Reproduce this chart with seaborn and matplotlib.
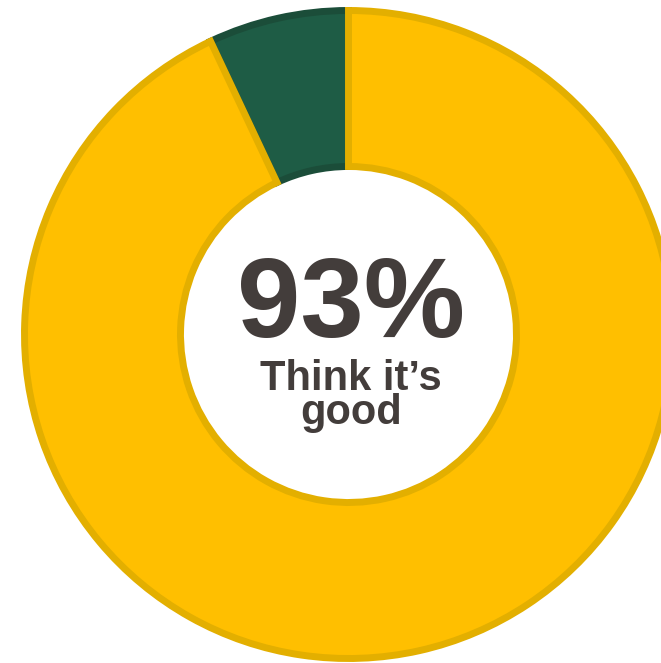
import matplotlib
matplotlib.use("Agg")
import matplotlib.pyplot as plt
import seaborn as sns

# ============================
# Data
# ============================
labels = ["Think it's not good", "Think it's good"]
shares = [7, 93]
fill_colors = ["#1E5C45", "#FFBF00"]
edge_colors = ["#1B4D39", "#E3AF00"]
headline = "93%"
caption = ["Think it\u2019s", "good"]

sns.set_theme(style="white")
plt.rcParams["font.family"] = ["Liberation Sans", "DejaVu Sans"]

W, H = 661, 663
fig = plt.figure(figsize=(W / 100, H / 100), dpi=100)
ax = fig.add_axes([0, 0, 1, 1])

# centre of the ring in pixel units (y measured from the bottom)
cx, cy = 348.5, H - 334.5
r_out, r_in = 324.0, 168.0

wedges, _ = ax.pie(shares, colors=fill_colors, startangle=90, counterclock=True,
                   center=(cx, cy), radius=r_out,
                   wedgeprops=dict(width=r_out - r_in, linewidth=5.0))
for w, ec in zip(wedges, edge_colors):
    w.set_edgecolor(ec)

ax.set_xlim(0, W)
ax.set_ylim(0, H)
ax.set_aspect("equal")
ax.axis("off")

txt_col = "#433D3B"
ax.text(351, H - 337, headline, ha="center", va="baseline",
        fontsize=82, fontweight="bold", color=txt_col)
# baseline of a two-line text is that of its last line
ax.text(351, H - 424, "\n".join(caption), ha="center", va="baseline",
        fontsize=30, fontweight="bold", color=txt_col, linespacing=0.8,
        multialignment="center")

fig.savefig("out.png", dpi=100, facecolor="white")
